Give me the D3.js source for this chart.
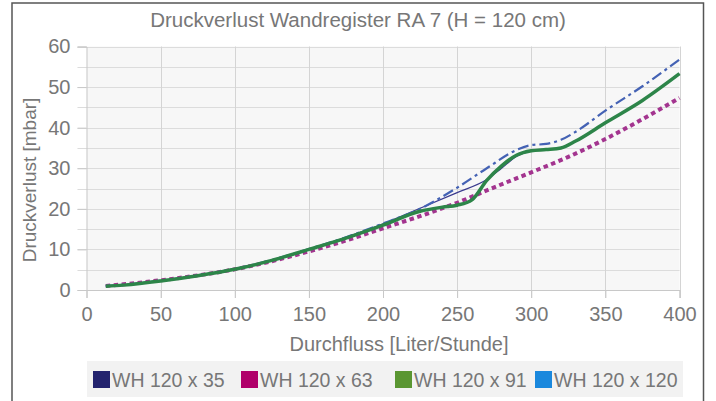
<!DOCTYPE html>
<html><head><meta charset="utf-8">
<script src="https://cdn.jsdelivr.net/npm/d3@7"></script>
<style>
body{margin:0;background:#fff;}
text{font-family:"Liberation Sans",Arial,sans-serif;fill:#777;}
</style></head>
<body><svg id="c" width="716" height="401"></svg>
<script>
const title = "Druckverlust Wandregister RA 7 (H = 120 cm)";
const xLabel = "Durchfluss [Liter/Stunde]";
const yLabel = "Druckverlust [mbar]";
const seriesNames = ["WH 120 x 35","WH 120 x 63","WH 120 x 91","WH 120 x 120"];
const legendColors = ["#23236e","#b0006a","#5a9632","#1a88dd"];
const xTicks = [0,50,100,150,200,250,300,350,400];
const yTicks = [0,10,20,30,40,50,60];

const flow35  = [13,25,50,75,100,125,150,175,200,215,250,270,280,290,300,310,320,330,350,375,400];
const dp35    = [1.0,1.3,2.3,3.6,5.2,7.4,10.1,13.0,16.3,18.6,24.0,27.2,30.0,32.9,34.2,34.6,35.0,36.7,41.2,46.7,53.2];
const flow63  = [13,25,50,75,100,125,150,175,200,225,250,275,300,325,350,375,400];
const dp63    = [1.0,1.4,2.4,3.6,5.1,7.1,9.5,12.2,15.2,18.2,21.5,25.3,29.0,32.8,37.2,42.1,47.3];
const flow91  = [13,25,50,75,100,125,150,175,200,225,240,250,260,270,280,290,300,310,320,330,350,375,400];
const dp91    = [0.9,1.2,2.2,3.5,5.1,7.3,10.0,12.8,16.0,19.4,20.4,20.9,22.2,27.0,30.6,33.2,34.3,34.6,35.0,36.7,41.2,46.7,53.3];
const flow120 = [13,25,50,75,100,125,150,175,200,225,250,270,290,300,310,320,330,350,375,400];
const dp120   = [1.0,1.3,2.3,3.6,5.2,7.4,10.1,13.0,16.4,20.0,25.2,30.0,34.5,35.7,36.0,37.0,39.0,44.2,50.2,56.8];

const svg = d3.select("#c");
const m={l:86.5,r:679.5,t:46.5,b:290};
const x=d3.scaleLinear().domain([0,400]).range([m.l,m.r]);
const y=d3.scaleLinear().domain([0,60]).range([m.b,m.t]);
const FS="20px";

// frame
svg.append("rect").attr("x",12).attr("y",3).attr("width",691.5).attr("height",410)
  .attr("fill","#fff").attr("stroke","#555").attr("stroke-width",1.5);

svg.append("text").attr("x",358).attr("y",27).attr("text-anchor","middle")
  .style("font-size","20.5px").text(title);

// plot bg
svg.append("rect").attr("x",m.l).attr("y",m.t).attr("width",m.r-m.l).attr("height",m.b-m.t).attr("fill","#f7f7f7");

// grid
const yGrid = d3.range(5,61,5);
svg.append("g").selectAll("line").data(yGrid).join("line")
  .attr("x1",m.l-9).attr("x2",m.r).attr("y1",d=>Math.round(y(d))+0.5).attr("y2",d=>Math.round(y(d))+0.5)
  .attr("stroke","#dcdcdc").attr("stroke-width",1.2);
svg.append("g").selectAll("line").data(xTicks.slice(1)).join("line")
  .attr("x1",d=>Math.round(x(d))+0.5).attr("x2",d=>Math.round(x(d))+0.5).attr("y1",m.t).attr("y2",m.b+8)
  .attr("stroke","#d4d4d4").attr("stroke-width",1);

// axes
const yAxis = svg.append("g").attr("transform",`translate(${m.l},0)`)
  .call(d3.axisLeft(y).tickValues(yTicks).tickSize(9).tickPadding(7));
const xAxis = svg.append("g").attr("transform",`translate(0,${m.b})`)
  .call(d3.axisBottom(x).tickValues(xTicks).tickSize(8).tickPadding(9));
[yAxis,xAxis].forEach(a=>{
  a.select(".domain").attr("stroke","#c8c8c8");
  a.selectAll(".tick line").attr("stroke","#c8c8c8");
  a.selectAll(".tick text").attr("fill","#777").style("font-size",FS).style("font-family","Liberation Sans, Arial, sans-serif");
});

svg.append("text").attr("x",(m.l+m.r)/2+16).attr("y",351).attr("text-anchor","middle")
  .style("font-size",FS).text(xLabel);
svg.append("text").attr("transform",`translate(36,180) rotate(-90)`).attr("text-anchor","middle")
  .style("font-size","19px").text(yLabel);

// lines
const line = d3.line().x(d=>x(d[0])).y(d=>y(d[1])).curve(d3.curveMonotoneX);
const zip=(a,b)=>a.map((v,i)=>[v,b[i]]);
const g=svg.append("g");
g.append("path").datum(zip(flow63,dp63)).attr("d",line).attr("fill","none")
  .attr("stroke","#a3348f").attr("stroke-width",4).attr("stroke-dasharray","4.5,3.5");
g.append("path").datum(zip(flow35,dp35)).attr("d",line).attr("fill","none")
  .attr("stroke","#3a3a8e").attr("stroke-width",1.2);
g.append("path").datum(zip(flow120,dp120)).attr("d",line).attr("fill","none")
  .attr("stroke","#4462b4").attr("stroke-width",2.2).attr("stroke-dasharray","11,4,3,4");
g.append("path").datum(zip(flow91,dp91)).attr("d",line).attr("fill","none")
  .attr("stroke","#2d8549").attr("stroke-width",3.5);

// legend
const lg=svg.append("g");
lg.append("rect").attr("x",87).attr("y",361).attr("width",596).attr("height",36).attr("fill","#f2f2f2");
const lx=[93,241,395,535];
seriesNames.forEach((n,i)=>{
  lg.append("rect").attr("x",lx[i]).attr("y",371).attr("width",17).attr("height",17).attr("fill",legendColors[i]);
  lg.append("text").attr("x",lx[i]+19).attr("y",387).style("font-size","19.5px").attr("fill","#777").text(n);
});
</script></body></html>
